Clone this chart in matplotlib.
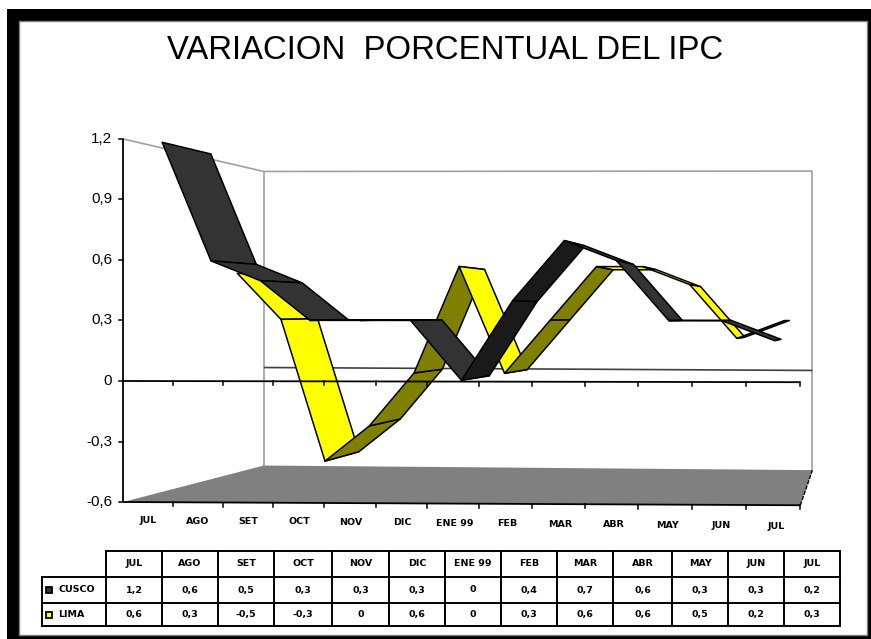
import matplotlib
matplotlib.use("Agg")
import matplotlib.pyplot as plt
from matplotlib.patches import Polygon, Rectangle

# ---- data ----
months = ["JUL", "AGO", "SET", "OCT", "NOV", "DIC", "ENE 99", "FEB", "MAR", "ABR", "MAY", "JUN", "JUL"]
cusco = [1.2, 0.6, 0.5, 0.3, 0.3, 0.3, 0, 0.4, 0.7, 0.6, 0.3, 0.3, 0.2]
lima = [0.56, 0.3, -0.5, -0.3, 0, 0.6, 0, 0.3, 0.6, 0.6, 0.5, 0.2, 0.3]
y_ticks = [1.2, 0.9, 0.6, 0.3, 0, -0.3, -0.6]
title = "VARIACION  PORCENTUAL DEL IPC"

fig = plt.figure(figsize=(8.71, 6.39), dpi=100, facecolor="white")
ax = fig.add_axes([0, 0, 1, 1])
ax.set_xlim(0, 871)
ax.set_ylim(639, 0)
ax.axis("off")
SANS = "Liberation Sans"
SMALL = dict(family="DejaVu Sans", fontweight="bold", fontsize=6.8, color="black", ha="center", va="center")


def fmt(v):
    return f"{round(v, 1):g}".replace(".", ",")


# perspective scale of the 3-D box: slot t along the category axis, value v, depth factor s
def project(t, v, s=1.0):
    fx = 123 + 49.5 * t + 0.2 * t * t
    fy = 310.4 + (0.35 - v) * 201.7 * (1 + 0.0013 * t)
    vx, vy = 864, 310 + 0.8 * t
    return vx + s * (fx - vx), vy + s * (fy - vy)


n = len(months)
VMIN, VMAX = min(y_ticks), max(y_ticks)
S_BACK = 0.81


def line(a, b, **kw):
    ax.plot([a[0], b[0]], [a[1], b[1]], solid_capstyle="butt", **kw)


# picture frame
ax.add_patch(Rectangle((7, 9), 864, 630, fc="black", ec="none", zorder=0))
ax.add_patch(Rectangle((18.5, 20.5), 848.5, 614, fc="white", ec="#808080", lw=1, zorder=0.5))

ax.text(445, 59, title, family=SANS, fontsize=23.7, ha="center", va="baseline", color="black")

# floor and walls
ax.add_patch(Polygon([project(0, VMIN), project(0, VMIN, S_BACK), project(n, VMIN, S_BACK), project(n, VMIN)],
                     closed=True, fc="#808080", ec="none", zorder=1))
GRAY = dict(color="#a0a0a0", lw=1.2, zorder=1.2)
line(project(0, VMAX), project(0, VMAX, S_BACK), **GRAY)
line(project(0, VMAX, S_BACK), project(n, VMAX, S_BACK), **GRAY)
line(project(0, VMAX, S_BACK), project(0, VMIN, S_BACK), **GRAY)
line(project(n, VMAX, S_BACK), project(n, VMIN, S_BACK), **GRAY)
line(project(0, 0, S_BACK), project(n, 0, S_BACK), color="#404040", lw=1.2, zorder=1.3)
line(project(n, VMIN), project(n, VMIN, S_BACK), color="black", lw=1, ls=(0, (3, 1)), zorder=1.3)


# ribbons: painted left to right, rear series first
def ribbon(values, s1, s2, down, up, z):
    for i in range(len(values) - 1):
        a, b = values[i], values[i + 1]
        pts = [project(i + 0.5, a, s1), project(i + 1.5, b, s1),
               project(i + 1.5, b, s2), project(i + 0.5, a, s2)]
        ax.add_patch(Polygon(pts, closed=True, fc=up if b > a else down, ec="black",
                             lw=1.1, joinstyle="round", zorder=z + i * 0.01))


ribbon(lima, 0.875, 0.82, "#FFFF00", "#808000", 3)
ribbon(cusco, 0.98, 0.912, "#333333", "#1A1A1A", 4)

# axes
AX = dict(color="black", lw=1.3, zorder=5)
line(project(0, VMAX), project(0, VMIN), **AX)
line(project(0, 0), project(n, 0), **AX)
line(project(0, VMIN), project(n, VMIN), **AX)
for v in y_ticks:
    x, y = project(0, v)
    ax.plot([x - 4, x], [y, y], color="black", lw=1.1, zorder=5)
    ax.text(x - 11, y, fmt(v), family=SANS, fontsize=11, ha="right", va="center")
for t in range(1, n + 1):
    for v in (0, VMIN):
        x, y = project(t, v)
        ax.plot([x, x], [y, y + 4], color="black", lw=1.1, zorder=5)
for i, m in enumerate(months):
    x, y = project(i + 0.5, VMIN)
    ax.text(x + 0.25 * i, y + 18.5 + 0.2 * i, m, **SMALL)

# data table
col_x = [106, 162, 218, 274, 332, 389, 445, 501, 557, 613, 672, 728, 784, 840]
row_y = [551, 577, 603, 626]
LEFT = 42
TB = dict(color="black", lw=1.4, zorder=5)
ax.plot([col_x[0], col_x[-1]], [row_y[0]] * 2, **TB)
for y in row_y[1:]:
    ax.plot([LEFT, col_x[-1]], [y, y], **TB)
ax.plot([LEFT, LEFT], [row_y[1], row_y[3]], **TB)
for x in col_x:
    ax.plot([x, x], [row_y[0], row_y[3]], **TB)
for i, m in enumerate(months):
    xc = (col_x[i] + col_x[i + 1]) / 2
    ax.text(xc, (row_y[0] + row_y[1]) / 2, m, **SMALL)
    for r, series in enumerate((cusco, lima)):
        ax.text(xc, (row_y[r + 1] + row_y[r + 2]) / 2, fmt(series[i]), **SMALL)
for r, (name, colr) in enumerate((("CUSCO", "#333333"), ("LIMA", "#FFFF00"))):
    yc = (row_y[r + 1] + row_y[r + 2]) / 2
    ax.add_patch(Rectangle((46, yc - 3), 6, 6, fc=colr, ec="black", lw=1.3, zorder=5))
    ax.text(58, yc, name, **{**SMALL, "ha": "left"})

fig.savefig("out.png", dpi=100)
